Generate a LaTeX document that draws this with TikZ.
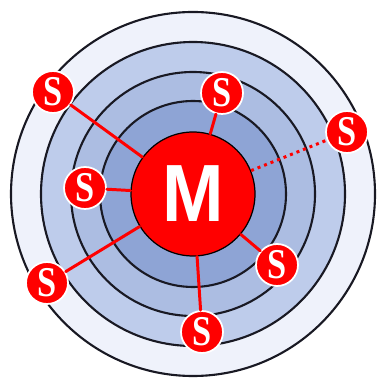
\documentclass[tikz,border=0pt]{standalone}
\usepackage{fontspec}
\newfontfamily\msans{Liberation Sans}
\newfontfamily\sserif{Liberation Serif}
\definecolor{ringA}{RGB}{239,242,251}
\definecolor{ringB}{RGB}{190,204,235}
\definecolor{ringC}{RGB}{172,189,226}
\definecolor{ringD}{RGB}{142,164,213}
\definecolor{ringline}{RGB}{25,25,35}
\begin{document}
\begin{tikzpicture}[x=0.02cm, y=0.02cm, line join=round, line cap=round]
	\tikzset{mnode/.style={circle, fill=red, draw=black, line width=0.7pt, minimum size=2.48cm, inner sep=0pt, text=white, font=\msans\bfseries\fontsize{42}{42}\selectfont},
		snode/.style={circle, fill=red, draw=white, line width=1pt, minimum size=0.84cm, inner sep=0pt, text=white, font=\sserif\bfseries\fontsize{23}{23}\selectfont},
		link/.style={red, line width=1.7pt},
		dotlink/.style={red, line width=1.7pt, line cap=butt, dash pattern=on 0.06cm off 0.08cm}}
	\def \cx{193}
	\def \cy{184}
	\useasboundingbox (0,0) rectangle (376,378);
	\foreach \r/\c in {182/ringA,152/ringB,122/ringC,93/ringD}
	{\draw[fill=\c, draw=ringline, line width=1.2pt] (\cx,\cy) circle (\r);}
	\node[mnode] (M) at (\cx,\cy) {\scalebox{1.0}[1.1]{M}};
	\foreach \n/\p in {1/{(53,286)},2/{(222,285)},3/{(347,246)},4/{(85,190)},5/{(47,95)},6/{(277,113)},7/{(202,46)}}
	{\node[snode] (s\n) at \p {\scalebox{0.85}[1.05]{S}};}
	\foreach \n in {1,2,4,5,6,7}
	{\draw[link] (M) -- (s\n);}
	\draw[dotlink] (M) -- (s3);
\end{tikzpicture}
\end{document}
